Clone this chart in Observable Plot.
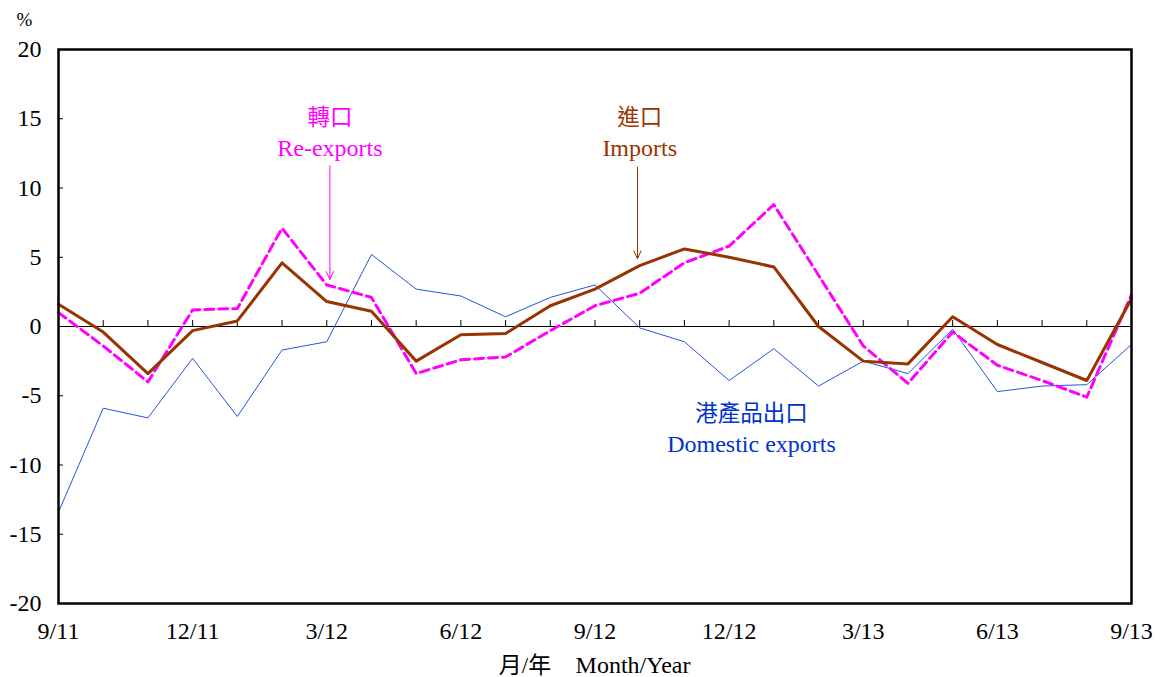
<!DOCTYPE html>
<html>
<head>
<meta charset="utf-8">
<script src="https://cdn.jsdelivr.net/npm/d3@7"></script>
<script src="https://cdn.jsdelivr.net/npm/@observablehq/plot@0.6"></script>
<style>
  html, body { margin: 0; padding: 0; background: #fff; }
  #chart { position: relative; width: 1163px; height: 677px; }
</style>
</head>
<body>
<div id="chart"></div>
<script>
const months = ["9/11","10/11","11/11","12/11","1/12","2/12","3/12","4/12","5/12","6/12","7/12","8/12","9/12","10/12","11/12","12/12","1/13","2/13","3/13","4/13","5/13","6/13","7/13","8/13","9/13"];
const imports = [1.6,-0.4,-3.4,-0.3,0.4,4.6,1.8,1.1,-2.5,-0.6,-0.5,1.5,2.7,4.4,5.6,5.0,4.3,0.0,-2.5,-2.7,0.7,-1.3,-2.6,-3.9,2.0];
const reexports = [1.0,-1.4,-4.0,1.2,1.3,7.1,3.0,2.1,-3.4,-2.4,-2.2,-0.3,1.5,2.4,4.6,5.8,8.8,3.7,-1.4,-4.1,-0.4,-2.8,-3.9,-5.1,2.3];
const domestic = [-13.4,-5.9,-6.6,-2.3,-6.5,-1.7,-1.1,5.2,2.7,2.2,0.7,2.1,3.0,-0.1,-1.1,-3.9,-1.6,-4.3,-2.5,-3.4,-0.2,-4.7,-4.3,-4.2,-1.3];
const yTicks = [-20,-15,-10,-5,0,5,10,15,20];
const xLabelIdx = [0,3,6,9,12,15,18,21,24];

const labelText = ["轉口","Re-exports","進口","Imports","港產品出口","Domestic exports"];
const labelX = [6.07,6.07,13.0,13.0,15.5,15.5];
const labelY = [15.1,12.9,15.1,12.9,-6.3,-8.5];
const labelColor = ["#FF00FF","#FF00FF","#993300","#993300","#0033CC","#0033CC"];

const arrowX = [6.07, 12.95];
const arrowY1 = [11.6, 11.5];
const arrowY2 = [3.4, 4.9];
const arrowColor = ["#FF00FF", "#993300"];

const idx = months.map((_, i) => i);
const tbl = (vals) => vals.map((v, i) => ({i, v}));
const isCJK = s => /[\u3000-\u9fff]/.test(s);

const chart = Plot.plot({
  width: 1163,
  height: 677,
  marginLeft: 58,
  marginRight: 32,
  marginTop: 49,
  marginBottom: 74,
  style: {fontFamily: "'Liberation Serif','Noto Sans CJK TC',serif", fontSize: "24px", background: "#fff", color: "#000"},
  x: {type: "linear", domain: [0, 24]},
  y: {domain: [-20, 20]},
  marks: [
    Plot.ruleY([0], {stroke: "#000", strokeWidth: 1}),
    Plot.ruleX(idx, {x: d => d, y1: 0, y2: 0, insetTop: -6, stroke: "#000", strokeWidth: 1}),
    Plot.ruleY(yTicks, {y: d => d, x1: 0, x2: 0, insetRight: -5, stroke: "#000", strokeWidth: 1}),
    Plot.line(tbl(domestic), {x: "i", y: "v", stroke: "#2255DD", strokeWidth: 1}),
    Plot.line(tbl(reexports), {x: "i", y: "v", stroke: "#FF00FF", strokeWidth: 3, strokeDasharray: "9,5"}),
    Plot.line(tbl(imports), {x: "i", y: "v", stroke: "#993300", strokeWidth: 3}),
    Plot.arrow(arrowX.map((x, k) => ({x, y1: arrowY1[k], y2: arrowY2[k], c: arrowColor[k]})), {
      x1: "x", x2: "x", y1: "y1", y2: "y2", stroke: d => d.c, strokeWidth: 1, headLength: 13, headAngle: 50
    }),
    Plot.text(labelText.map((t, k) => ({t, x: labelX[k], y: labelY[k], c: labelColor[k]})), {
      x: "x", y: "y", text: "t", fill: d => d.c, fontSize: d => isCJK(d.t) ? 22.5 : 24
    }),
    Plot.frame({stroke: "#000", strokeWidth: 2.5}),
    Plot.axisY({ticks: yTicks, tickSize: 0, tickPadding: 17, label: null, fontSize: 24, tickFormat: d => String(d)}),
    Plot.axisX({ticks: xLabelIdx, tickSize: 0, tickPadding: 18, label: null, tickFormat: i => months[i], fontSize: 24}),
    Plot.text(["%"], {frameAnchor: "top-left", dx: -42, dy: -37, fontSize: 19}),
    Plot.text(["月/年"], {frameAnchor: "bottom", dx: -70, dy: 69, fontSize: 23}),
    Plot.text(["Month/Year"], {frameAnchor: "bottom", dx: 38, dy: 69, fontSize: 24})
  ]
});
document.getElementById("chart").appendChild(chart);
</script>
</body>
</html>
